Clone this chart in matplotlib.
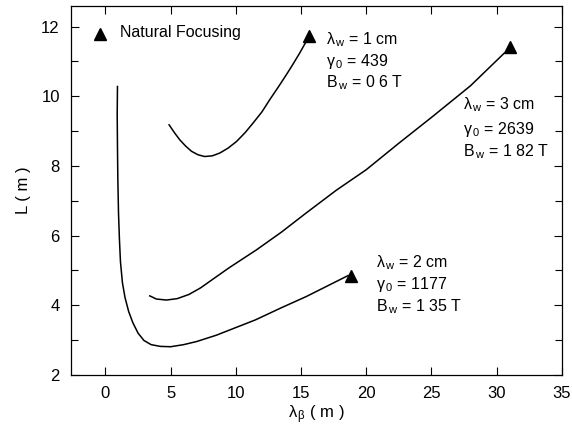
import matplotlib
matplotlib.use("Agg")
import matplotlib.pyplot as plt
from matplotlib.ticker import MultipleLocator

FONT = ['Liberation Sans', 'DejaVu Sans']
plt.rcParams['font.family'] = FONT
plt.rcParams['mathtext.fontset'] = 'custom'
plt.rcParams['mathtext.rm'] = 'Liberation Sans'
plt.rcParams['mathtext.it'] = 'Liberation Sans'
plt.rcParams['mathtext.bf'] = 'Liberation Sans'

# Curve: lambda_w = 1 cm
x_1cm = [4.88, 5.3, 5.7, 6.15, 6.6, 7.1, 7.61, 8.2, 8.77, 9.4, 10.05, 10.7, 11.32, 12.0, 12.6, 13.25, 13.88, 14.4, 14.9, 15.41]
y_1cm = [9.18, 8.95, 8.75, 8.57, 8.42, 8.32, 8.27, 8.29, 8.37, 8.51, 8.70, 8.95, 9.23, 9.55, 9.90, 10.26, 10.62, 10.93, 11.24, 11.58]

# Curve: lambda_w = 2 cm
x_2cm = [0.92, 0.9, 0.92, 0.95, 1.0, 1.07, 1.15, 1.3, 1.5, 1.78, 2.1, 2.5, 2.95, 3.5, 4.2, 5.0, 6.0, 7.0, 8.5, 10.0, 11.5, 13.5, 15.4, 17.0, 18.6]
y_2cm = [10.28, 9.5, 8.56, 7.6, 6.65, 5.9, 5.25, 4.65, 4.22, 3.82, 3.5, 3.2, 2.99, 2.87, 2.82, 2.81, 2.87, 2.96, 3.14, 3.36, 3.58, 3.93, 4.25, 4.55, 4.85]

# Curve: lambda_w = 3 cm
x_3cm = [3.4, 3.9, 4.68, 5.5, 6.4, 7.3, 8.13, 9.5, 11.58, 13.5, 15.4, 17.7, 20.0, 22.5, 25.1, 28.0, 30.6]
y_3cm = [4.27, 4.18, 4.15, 4.19, 4.31, 4.5, 4.72, 5.08, 5.59, 6.1, 6.65, 7.3, 7.89, 8.65, 9.42, 10.3, 11.24]

# Natural focusing points (triangles)
nf_x = [15.6, 18.8, 31.05]
nf_y = [11.72, 4.84, 11.4]

labels_1cm = [r'$\lambda_{\,\rm w}$ = 1 cm', r'$\gamma_{\,\rm 0}$ = 439', r'$\rm B_{\,\rm w}$ = 0 6 T']
labels_2cm = [r'$\lambda_{\,\rm w}$ = 2 cm', r'$\gamma_{\,\rm 0}$ = 1177', r'$\rm B_{\,\rm w}$ = 1 35 T']
labels_3cm = [r'$\lambda_{\,\rm w}$ = 3 cm', r'$\gamma_{\,\rm 0}$ = 2639', r'$\rm B_{\,\rm w}$ = 1 82 T']

x_ticks = [0, 5, 10, 15, 20, 25, 30, 35]
y_ticks = [2, 4, 6, 8, 10, 12]

fig = plt.figure(figsize=(5.72, 4.37), dpi=100)
ax = fig.add_axes([0.124, 0.142, 0.858, 0.845])

lw = 1.1
ax.plot(x_1cm, y_1cm, color='black', lw=lw)
ax.plot(x_2cm, y_2cm, color='black', lw=lw)
ax.plot(x_3cm, y_3cm, color='black', lw=lw)
ax.plot(nf_x, nf_y, linestyle='none', marker='^', color='black', ms=8)

# legend
ax.plot([-0.44], [11.8], linestyle='none', marker='^', color='black', ms=8)
ax.text(1.1, 11.83, 'Natural Focusing', fontsize=11.5, va='center', ha='left')

fs = 11.5
for lbls, x0, ys in [(labels_1cm, 16.9, [11.63, 11.0, 10.38]),
                     (labels_3cm, 27.4, [9.76, 9.06, 8.41]),
                     (labels_2cm, 20.73, [5.22, 4.59, 3.95])]:
    for t, yy in zip(lbls, ys):
        ax.text(x0, yy, t, fontsize=fs, va='center', ha='left')

ax.set_xlim(-2.65, 35)
ax.set_ylim(2, 12.6)
ax.set_xticks(x_ticks)
ax.set_yticks(y_ticks)
ax.yaxis.set_minor_locator(MultipleLocator(1))
ax.tick_params(which='both', direction='in', top=True, right=True, labelsize=12, width=0.8)
ax.tick_params(which='major', length=6, pad=8)
ax.tick_params(which='minor', length=5)
for s in ax.spines.values():
    s.set_linewidth(0.9)

ax.set_xlabel(r'$\lambda_{\,\beta}$ ( m )', fontsize=12, labelpad=2)
ax.set_ylabel('L ( m )', fontsize=12, labelpad=7)

fig.savefig('out.png', dpi=100)
